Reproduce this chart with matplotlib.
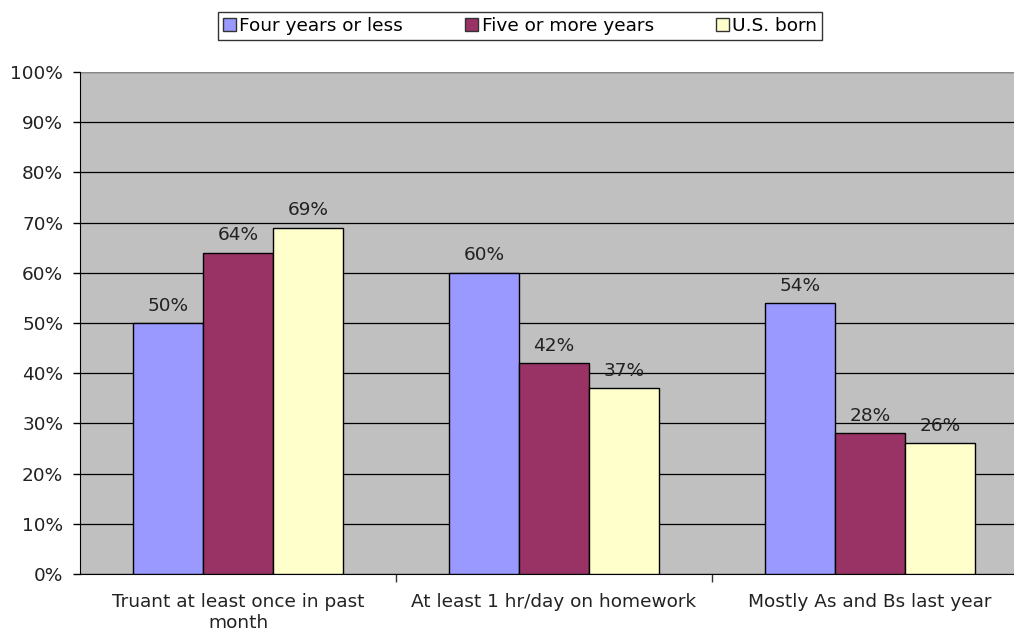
import numpy as np
import matplotlib
matplotlib.use("Agg")
import matplotlib.pyplot as plt
from matplotlib.patches import Patch

# Survey results by time in the U.S.
categories = ["Truant at least once in past\nmonth",
              "At least 1 hr/day on homework",
              "Mostly As and Bs last year"]
series_names = ["Four years or less", "Five or more years", "U.S. born"]
four_or_less = [50, 60, 54]
five_or_more = [64, 42, 28]
us_born = [69, 37, 26]
y_ticks = list(range(0, 101, 10))

colors = ["#9999FF", "#993366", "#FFFFCC"]
series = [four_or_less, five_or_more, us_born]
fs = 13.3

plt.rcParams['font.family'] = ['DejaVu Sans']
fig = plt.figure(figsize=(10.14, 6.33), dpi=100)
ax = fig.add_axes([80 / 1014, 59 / 633, 934 / 1014, 502 / 633])
ax.set_facecolor("#C0C0C0")

x = np.arange(len(categories))
width = 0.2215
for i, (vals, col) in enumerate(zip(series, colors)):
    pos = x + (i - 1) * width
    ax.bar(pos, vals, width, color=col, edgecolor="black", linewidth=1.0,
           zorder=3, label=series_names[i])
    for p, v in zip(pos, vals):
        ax.annotate(f"{v}%", (p, v), xytext=(0, 6), textcoords="offset points",
                    ha="center", va="bottom", fontsize=fs, color="#222222")

ax.set_yticks(y_ticks)
ax.set_yticklabels([f"{t}%" for t in y_ticks], fontsize=fs, color="#222222")
ax.yaxis.grid(True, color="black", linewidth=0.9, zorder=1)
ax.tick_params(axis="y", length=5, width=1, pad=7)

# category labels centred, ticks between categories
ax.set_xticks([0.5, 1.5, 2.5])
ax.set_xticklabels([])
ax.tick_params(axis="x", length=6, width=1, color="#333333")
ax.set_xticks(x, minor=True)
ax.set_xticklabels(categories, minor=True, fontsize=fs, color="#222222")
ax.tick_params(axis="x", which="minor", length=0, pad=14)

ax.set_ylim(0, 100)
ax.set_xlim(-0.5, 2.5 - 14 / 316)

for side in ["top", "right"]:
    ax.spines[side].set_visible(False)
ax.spines["left"].set_color("black")
ax.spines["bottom"].set_color("black")
ax.axhline(100, color="#888888", linewidth=1.5, zorder=2)

handles = [Patch(facecolor=c, edgecolor="#333333", label=n) for c, n in zip(colors, series_names)]
leg = fig.legend(handles=handles, loc="center", bbox_to_anchor=(520 / 1014, 1 - 26 / 633),
                 ncol=3, fontsize=fs, frameon=True, fancybox=False, edgecolor="black",
                 handlelength=0.7, handleheight=0.7, handletextpad=0.2, columnspacing=3.35,
                 borderpad=0.25)
leg.get_frame().set_linewidth(1.0)

fig.savefig("out.png", dpi=100)
